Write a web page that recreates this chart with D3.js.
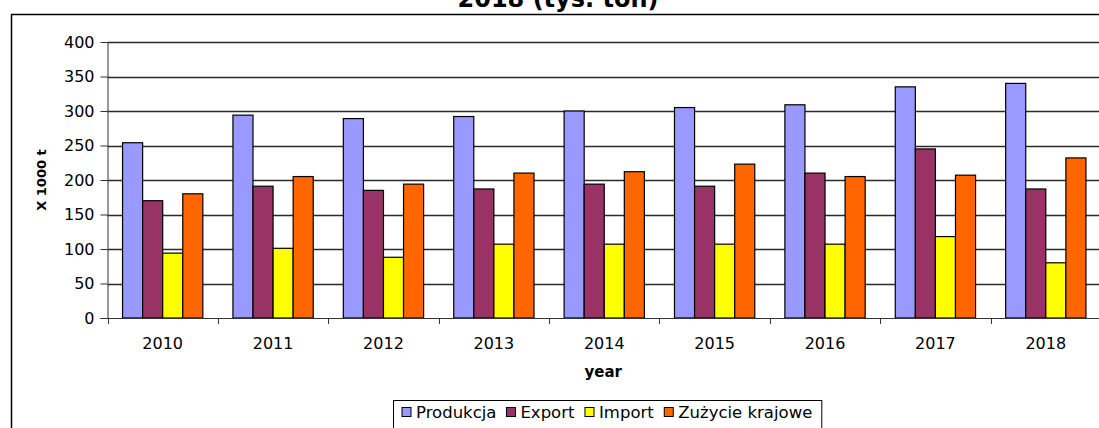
<!DOCTYPE html>
<html>
<head>
<meta charset="utf-8">
<script src="https://cdn.jsdelivr.net/npm/d3@7"></script>
<style>
  body { margin: 0; background: #fff; }
  svg { display: block; font-family: "DejaVu Sans", "Liberation Sans", Arial, sans-serif; }
</style>
</head>
<body>
<div id="chart"></div>
<script>
const years = ["2010", "2011", "2012", "2013", "2014", "2015", "2016", "2017", "2018"];
const seriesNames = ["Produkcja", "Export", "Import", "Zużycie krajowe"];
const produkcja = [254, 294, 289, 292, 300, 305, 309, 335, 340];
const exportVals = [170, 191, 185, 187, 194, 191, 210, 245, 187];
const importVals = [94, 101, 88, 107, 107, 107, 107, 118, 80];
const zuzycie = [180, 205, 194, 210, 212, 223, 205, 207, 232];
const yTicks = [0, 50, 100, 150, 200, 250, 300, 350, 400];
const colors = ["#9999ff", "#993366", "#ffff00", "#ff6600"];

const width = 1099, height = 428,
    margin = ({ top: 42, right: -2, bottom: 110, left: 107.5 });
const font = "DejaVu Sans, Liberation Sans, Arial, sans-serif";

const svg = d3.select("#chart")
    .append("svg")
    .attr("width", width)
    .attr("height", height);

// outer frame (cut off on the right and bottom)
svg.append("path")
    .attr("d", `M11.5,${height + 2}V14.5H${width + 2}`)
    .attr("fill", "none")
    .attr("stroke", "#000")
    .attr("stroke-width", 1.5);

// title, its top cut off by the page like in the original
svg.append("text")
    .attr("x", 558)
    .attr("y", 6.5)
    .attr("text-anchor", "middle")
    .attr("font-size", 24)
    .attr("font-weight", "bold")
    .text("2018 (tys. ton)");

const allSeries = [produkcja, exportVals, importVals, zuzycie];
const data = years.map((yr, i) => ({
    year: yr,
    values: seriesNames.map((s, k) => ({ key: s, value: allSeries[k][i] }))
}));

let x = d3.scaleBand()
    .domain(years)
    .range([margin.left, width - margin.right]);

let x1 = d3.scaleBand()
    .domain(seriesNames)
    .range([0, x.bandwidth()])
    .paddingOuter(0.75)
    .paddingInner(0);

let y = d3.scaleLinear()
    .domain([0, 400])
    .range([height - margin.bottom, margin.top]);

let color = d3.scaleOrdinal()
    .domain(seriesNames)
    .range(colors);

// gridlines
svg.append("g")
    .selectAll("line")
    .data(yTicks.filter(d => d > 0))
    .join("line")
    .attr("x1", margin.left)
    .attr("x2", width + 2)
    .attr("y1", d => Math.round(y(d)) + 0.5)
    .attr("y2", d => Math.round(y(d)) + 0.5)
    .attr("stroke", "#2a2a2a")
    .attr("stroke-width", 1.3);

// bars
svg.append("g")
    .selectAll("g")
    .data(data)
    .join("g")
    .attr("transform", d => `translate(${x(d.year)},0)`)
    .selectAll("rect")
    .data(d => d.values)
    .join("rect")
    .attr("x", d => x1(d.key))
    .attr("y", d => y(d.value))
    .attr("width", x1.bandwidth())
    .attr("height", d => y(0) - y(d.value))
    .attr("fill", d => color(d.key))
    .attr("stroke", "#000")
    .attr("stroke-width", 1.2);

// y axis
const yAxis = svg.append("g")
    .attr("transform", `translate(${margin.left},0)`)
    .call(d3.axisLeft(y)
        .tickValues(yTicks)
        .tickSize(7)
        .tickPadding(6)
        .tickSizeOuter(0));
yAxis.attr("font-family", font).attr("font-size", 16);
yAxis.select(".domain").attr("stroke", "#333");
yAxis.selectAll(".tick line").attr("stroke", "#333");
yAxis.selectAll("text").attr("fill", "#000");

// x axis: ticks between categories
const xAxis = svg.append("g")
    .attr("transform", `translate(0,${y(0)})`);
xAxis.append("line")
    .attr("x1", margin.left - 7)
    .attr("x2", width + 2)
    .attr("y1", 0.5)
    .attr("y2", 0.5)
    .attr("stroke", "#333");
xAxis.selectAll(".sep")
    .data(years)
    .join("line")
    .attr("class", "sep")
    .attr("x1", d => Math.round(x(d)) + 0.5)
    .attr("x2", d => Math.round(x(d)) + 0.5)
    .attr("y1", 0)
    .attr("y2", 6)
    .attr("stroke", "#333");
xAxis.selectAll("text")
    .data(years)
    .join("text")
    .attr("x", d => x(d) + x.bandwidth() / 2)
    .attr("y", 31)
    .attr("text-anchor", "middle")
    .attr("font-size", 16)
    .text(d => d);

// axis labels
svg.append("text")
    .attr("x", (margin.left + width) / 2)
    .attr("y", 377)
    .attr("text-anchor", "middle")
    .attr("font-size", 15)
    .attr("font-weight", "bold")
    .text("year");

svg.append("text")
    .attr("transform", `translate(46,180) rotate(-90)`)
    .attr("text-anchor", "middle")
    .attr("font-size", 13)
    .attr("font-weight", "bold")
    .text("X 1000 t");

// legend
const legendBox = svg.append("rect")
    .attr("fill", "#fff")
    .attr("stroke", "#000")
    .attr("stroke-width", 1);
const legend = svg.append("g");
const items = legend.selectAll("g")
    .data(seriesNames)
    .join("g");
items.append("rect")
    .attr("width", 9)
    .attr("height", 9)
    .attr("y", -10.5)
    .attr("fill", d => color(d))
    .attr("stroke", "#000");
items.append("text")
    .attr("x", 14)
    .attr("font-size", 16.5)
    .text(d => d);

let lx = 0;
items.each(function () {
    d3.select(this).attr("transform", `translate(${lx},0)`);
    lx += this.getBBox().width + 10;
});
const legW = lx - 10 + 18;
const legX = Math.round(607 - legW / 2);
legend.attr("transform", `translate(${legX + 9},418)`);
legendBox
    .attr("x", legX + 0.5)
    .attr("y", 400.5)
    .attr("width", legW)
    .attr("height", 40);
</script>
</body>
</html>
